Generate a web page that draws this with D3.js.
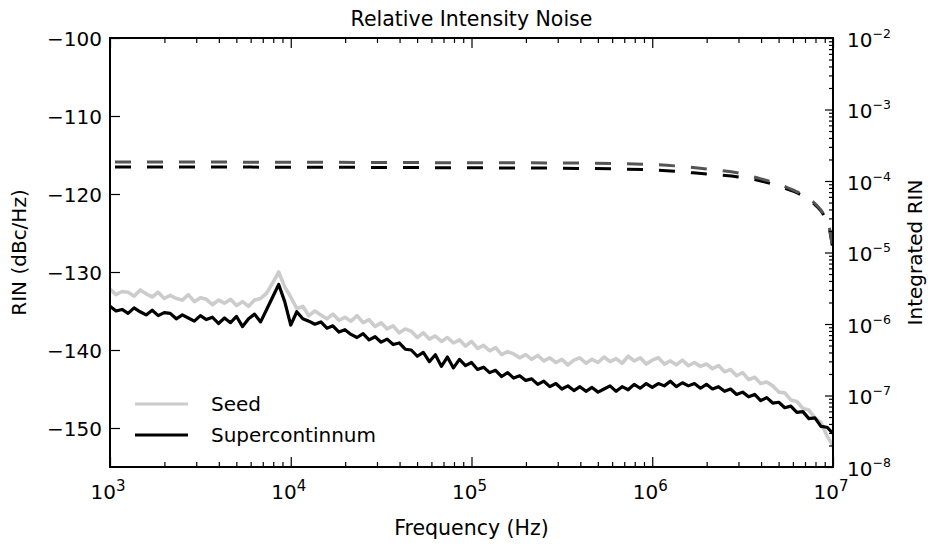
<!DOCTYPE html>
<html>
<head>
<meta charset="utf-8">
<script src="https://cdn.jsdelivr.net/npm/d3@7"></script>
<style>
  body { margin: 0; background: #fff; }
  text { font-family: "DejaVu Sans", sans-serif; fill: #000; }
</style>
</head>
<body>
<div id="chart"></div>
<script>
// frequency grid (Hz), 30 points per decade
var freqHz = [
  1.000e3,1.080e3,1.166e3,1.259e3,1.359e3,1.468e3,1.585e3,1.711e3,1.848e3,1.995e3,
  2.154e3,2.326e3,2.512e3,2.712e3,2.929e3,3.162e3,3.415e3,3.687e3,3.981e3,4.299e3,
  4.642e3,5.012e3,5.412e3,5.843e3,6.310e3,6.813e3,7.356e3,7.943e3,8.577e3,9.261e3,
  1.000e4,1.080e4,1.166e4,1.259e4,1.359e4,1.468e4,1.585e4,1.711e4,1.848e4,1.995e4,
  2.154e4,2.326e4,2.512e4,2.712e4,2.929e4,3.162e4,3.415e4,3.687e4,3.981e4,4.299e4,
  4.642e4,5.012e4,5.412e4,5.843e4,6.310e4,6.813e4,7.356e4,7.943e4,8.577e4,9.261e4,
  1.000e5,1.080e5,1.166e5,1.259e5,1.359e5,1.468e5,1.585e5,1.711e5,1.848e5,1.995e5,
  2.154e5,2.326e5,2.512e5,2.712e5,2.929e5,3.162e5,3.415e5,3.687e5,3.981e5,4.299e5,
  4.642e5,5.012e5,5.412e5,5.843e5,6.310e5,6.813e5,7.356e5,7.943e5,8.577e5,9.261e5,
  1.000e6,1.080e6,1.166e6,1.259e6,1.359e6,1.468e6,1.585e6,1.711e6,1.848e6,1.995e6,
  2.154e6,2.326e6,2.512e6,2.712e6,2.929e6,3.162e6,3.415e6,3.687e6,3.981e6,4.299e6,
  4.642e6,5.012e6,5.412e6,5.843e6,6.310e6,6.813e6,7.356e6,7.943e6,8.577e6,9.261e6,
  1.000e7
];

// RIN (dBc/Hz)
var seedRin = [
  -132.2,-132.9,-132.5,-132.6,-133.1,-132.3,-132.8,-133.2,-132.6,-133.4,
  -133.0,-133.4,-133.6,-132.9,-133.8,-133.3,-133.5,-134.2,-133.6,-134.0,
  -133.5,-134.3,-133.8,-134.4,-133.6,-133.4,-132.7,-131.4,-130.0,-131.9,
  -133.2,-134.7,-134.4,-135.6,-135.0,-135.5,-136.0,-135.4,-136.2,-135.8,
  -136.3,-135.6,-136.5,-136.1,-137.0,-136.5,-137.3,-136.9,-137.8,-137.3,
  -137.6,-138.4,-137.8,-138.6,-138.2,-138.9,-138.4,-139.1,-138.7,-139.5,
  -138.9,-139.8,-139.4,-140.1,-139.7,-140.6,-140.2,-140.5,-141.0,-140.6,
  -141.2,-140.7,-141.4,-141.0,-141.6,-141.2,-141.9,-141.3,-141.0,-141.7,
  -141.2,-141.6,-140.9,-141.5,-141.1,-141.7,-140.8,-141.4,-141.0,-141.8,
  -141.3,-141.0,-141.8,-141.4,-141.9,-141.3,-142.0,-141.6,-142.1,-141.8,
  -142.4,-142.0,-142.8,-142.5,-143.3,-142.9,-143.8,-143.5,-144.3,-144.1,
  -144.6,-145.4,-145.5,-146.4,-146.6,-147.5,-147.7,-148.7,-149.3,-151.0,
  -152.3
];

var superRin = [
  -134.4,-135.0,-134.8,-135.3,-134.6,-135.1,-135.5,-134.9,-135.6,-135.2,
  -135.3,-136.0,-135.5,-135.9,-136.3,-135.6,-136.1,-135.8,-136.6,-135.9,
  -136.5,-135.7,-137.0,-136.0,-135.4,-136.4,-134.8,-133.2,-131.6,-133.8,
  -136.8,-135.1,-136.0,-136.3,-136.7,-136.4,-137.2,-136.9,-137.7,-137.4,
  -138.0,-138.4,-137.9,-138.7,-138.3,-139.0,-138.6,-139.3,-139.1,-139.9,
  -140.0,-140.8,-140.3,-141.5,-140.6,-142.1,-140.9,-142.3,-141.2,-142.0,
  -141.6,-142.5,-142.2,-142.9,-142.6,-143.4,-142.9,-143.6,-143.3,-143.9,
  -143.7,-144.4,-144.0,-144.7,-144.3,-145.0,-144.6,-145.2,-144.7,-145.3,
  -144.8,-145.4,-145.0,-144.6,-145.3,-144.7,-145.1,-144.4,-144.9,-144.3,
  -144.8,-144.3,-144.6,-144.0,-144.7,-144.2,-144.6,-144.3,-144.9,-144.4,
  -145.0,-144.7,-145.3,-145.0,-145.7,-145.4,-146.0,-145.7,-146.5,-146.1,
  -146.8,-146.7,-147.4,-147.2,-148.0,-147.9,-148.8,-148.7,-149.8,-149.9,
  -150.7
];

// integrated RIN (right axis)
var intFreq  = [1e3, 1e4, 1e5, 3e5, 1e6, 2e6, 3e6, 4e6, 5e6, 6e6, 7e6, 8e6, 9e6, 9.5e6, 1e7];
var seedInt  = [1.85e-4,1.83e-4,1.80e-4,1.79e-4,1.70e-4,1.47e-4,1.29e-4,1.07e-4,9.1e-5,7.5e-5,6.2e-5,4.77e-5,3.24e-5,2.35e-5,1.08e-5];
var superInt = [1.57e-4,1.56e-4,1.53e-4,1.51e-4,1.43e-4,1.25e-4,1.14e-4,1.0e-4,8.5e-5,7.2e-5,5.97e-5,4.6e-5,3.14e-5,2.27e-5,1.08e-5];

var xMajor = [1e3, 1e4, 1e5, 1e6, 1e7];
var yLeftTicks = [-100, -110, -120, -130, -140, -150];
var yRightMajor = [1e-8, 1e-7, 1e-6, 1e-5, 1e-4, 1e-3, 1e-2];

var margin = {top: 38, right: 95, bottom: 79, left: 110},
    width = 928 - margin.left - margin.right,
    height = 546 - margin.top - margin.bottom;

var svg = d3.select("#chart")
    .append("svg")
    .attr("width", 928)
    .attr("height", 546)
    .append("g")
    .attr("transform", "translate(" + margin.left + "," + margin.top + ")");

var x = d3.scaleLog().domain([1e3, 1e7]).range([0, width]);
var y = d3.scaleLinear().domain([-155, -100]).range([height, 0]);
var yR = d3.scaleLog().domain([1e-8, 1e-2]).range([height, 0]);

// minor ticks 2..9 per decade
function minorTicks(lo, hi) {
    var out = [];
    for (var e = lo; e < hi; e++)
        for (var m = 2; m <= 9; m++) out.push(m * Math.pow(10, e));
    return out;
}
var xMinor = minorTicks(3, 7);
var yRightMinor = minorTicks(-8, -2);

svg.append("clipPath").attr("id", "clip")
    .append("rect").attr("width", width).attr("height", height);

var plot = svg.append("g").attr("clip-path", "url(#clip)");

var rinLine = d3.line()
    .x(function(d) { return x(d.f) })
    .y(function(d) { return y(d.v) });

var seedData = freqHz.map(function(f, i) { return {f: f, v: seedRin[i]} });
var superData = freqHz.map(function(f, i) { return {f: f, v: superRin[i]} });

plot.append("path")
    .datum(seedData)
    .attr("fill", "none")
    .attr("stroke", "#cccccc")
    .attr("stroke-width", 3.6)
    .attr("stroke-linejoin", "round")
    .attr("d", rinLine);

plot.append("path")
    .datum(superData)
    .attr("fill", "none")
    .attr("stroke", "#000")
    .attr("stroke-width", 3.2)
    .attr("stroke-linejoin", "round")
    .attr("d", rinLine);

var intLine = d3.line()
    .x(function(d) { return x(d.f) })
    .y(function(d) { return yR(d.v) })
    .curve(d3.curveMonotoneX);

plot.append("path")
    .datum(intFreq.map(function(f, i) { return {f: f, v: superInt[i]} }))
    .attr("fill", "none")
    .attr("stroke", "#000")
    .attr("stroke-width", 3)
    .attr("stroke-dasharray", "16,16")
    .attr("stroke-dashoffset", -5)
    .attr("d", intLine);

plot.append("path")
    .datum(intFreq.map(function(f, i) { return {f: f, v: seedInt[i]} }))
    .attr("fill", "none")
    .attr("stroke", "#555555")
    .attr("stroke-width", 3)
    .attr("stroke-dasharray", "16,16")
    .attr("stroke-dashoffset", -5)
    .attr("d", intLine);

// axes (inward ticks)
function styleAxis(g) {
    g.select(".domain").remove();
    g.selectAll(".tick line").attr("stroke", "#000").attr("stroke-width", 1.2);
}

svg.append("g").attr("transform", "translate(0," + height + ")")
    .call(d3.axisBottom(x).tickValues(xMajor).tickSizeInner(-10).tickSizeOuter(0).tickFormat(""))
    .call(styleAxis);
svg.append("g").attr("transform", "translate(0," + height + ")")
    .call(d3.axisBottom(x).tickValues(xMinor).tickSizeInner(-5).tickSizeOuter(0).tickFormat(""))
    .call(styleAxis);
svg.append("g")
    .call(d3.axisTop(x).tickValues(xMajor).tickSizeInner(-10).tickSizeOuter(0).tickFormat(""))
    .call(styleAxis);
svg.append("g")
    .call(d3.axisTop(x).tickValues(xMinor).tickSizeInner(-5).tickSizeOuter(0).tickFormat(""))
    .call(styleAxis);

svg.append("g")
    .call(d3.axisLeft(y).tickValues(yLeftTicks).tickSizeInner(-10).tickSizeOuter(0).tickPadding(8)
        .tickFormat(function(d) { return "\u2212" + Math.abs(d) }))
    .call(styleAxis)
    .selectAll("text")
    .attr("font-size", 20)
    .attr("dy", "0.38em");

svg.append("g").attr("transform", "translate(" + width + ",0)")
    .call(d3.axisRight(yR).tickValues(yRightMajor).tickSizeInner(-8).tickSizeOuter(0).tickFormat(""))
    .call(styleAxis);
svg.append("g").attr("transform", "translate(" + width + ",0)")
    .call(d3.axisRight(yR).tickValues(yRightMinor).tickSizeInner(-4).tickSizeOuter(0).tickFormat(""))
    .call(styleAxis);

// power-of-ten tick labels
svg.append("g").selectAll("text")
    .data(xMajor)
    .join("text")
    .attr("x", function(d) { return x(d) - 2 })
    .attr("y", height + 32)
    .attr("text-anchor", "middle")
    .attr("font-size", 20)
    .each(function(d) {
        var t = d3.select(this);
        t.append("tspan").text("10");
        t.append("tspan").attr("font-size", 15).attr("dy", -8).text(Math.round(Math.log10(d)));
    });

svg.append("g").selectAll("text")
    .data(yRightMajor)
    .join("text")
    .attr("x", width + 14)
    .attr("y", function(d) { return yR(d) + 8.5 })
    .attr("font-size", 20)
    .each(function(d) {
        var t = d3.select(this);
        t.append("tspan").text("10");
        t.append("tspan").attr("font-size", 12.5).attr("dy", -9)
            .text("\u2212" + Math.abs(Math.round(Math.log10(d))));
    });

// frame
svg.append("rect")
    .attr("width", width)
    .attr("height", height)
    .attr("fill", "none")
    .attr("stroke", "#000")
    .attr("stroke-width", 2);

// titles
svg.append("text")
    .attr("x", width / 2)
    .attr("y", -12)
    .attr("text-anchor", "middle")
    .attr("font-size", 20.5)
    .text("Relative Intensity Noise");

svg.append("text")
    .attr("x", width / 2)
    .attr("y", height + 68)
    .attr("text-anchor", "middle")
    .attr("font-size", 20.5)
    .text("Frequency (Hz)");

svg.append("text")
    .attr("transform", "translate(" + (-84) + "," + (height / 2) + ") rotate(-90)")
    .attr("text-anchor", "middle")
    .attr("font-size", 20)
    .text("RIN (dBc/Hz)");

svg.append("text")
    .attr("transform", "translate(" + (width + 89) + "," + (height / 2) + ") rotate(-90)")
    .attr("text-anchor", "middle")
    .attr("font-size", 20)
    .text("Integrated RIN");

// legend
var legendItems = [
    {name: "Seed", color: "#cccccc"},
    {name: "Supercontinnum", color: "#000"}
];
var legend = svg.append("g").attr("transform", "translate(25,366)");
legendItems.forEach(function(item, i) {
    legend.append("line")
        .attr("x1", 0).attr("x2", 53)
        .attr("y1", i * 31).attr("y2", i * 31)
        .attr("stroke", item.color)
        .attr("stroke-width", 3);
    legend.append("text")
        .attr("x", 76)
        .attr("y", i * 31 + 7)
        .attr("font-size", 20)
        .text(item.name);
});
</script>
</body>
</html>
